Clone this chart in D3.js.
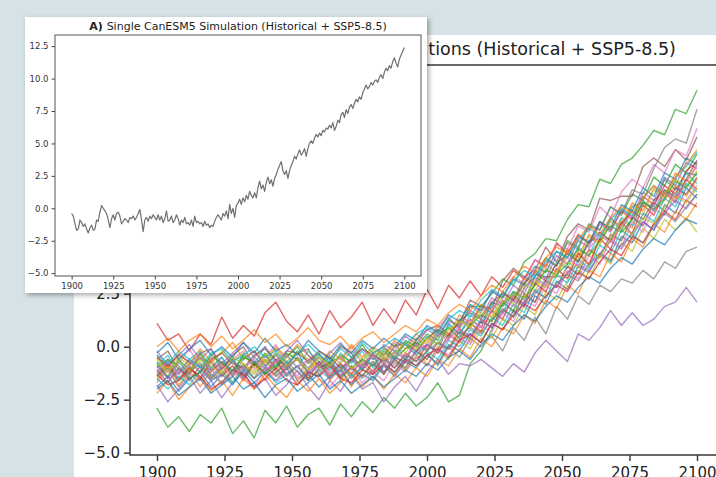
<!DOCTYPE html>
<html>
<head>
<meta charset="utf-8">
<script src="https://cdn.jsdelivr.net/npm/d3@7"></script>
<style>
  body { margin: 0; background: #d5e3e6; }
  svg { display: block; font-family: "DejaVu Sans", sans-serif; }
</style>
</head>
<body>
<div id="chart"></div>
<script>
// ---- Data ----
// single simulation, annual values 1900-2100
var singleYears = d3.range(1900, 2101);
var singleRun = [
  -0.4,-0.6,-1.2,-1.7,-1.6,-0.9,-1.1,-1.4,-1.2,-1.6,
  -1.9,-1.5,-1.3,-1.7,-1.6,-0.9,-1.0,-0.3,0.2,0.0,
  -0.2,-0.4,-0.9,-1.5,-0.8,-0.5,-0.9,-0.4,-0.3,-0.6,
  -1.2,-1.0,-0.8,-0.9,-1.1,-0.7,-0.8,-0.6,-0.9,-0.7,
  -0.4,-0.1,-0.9,-1.8,-0.9,-0.7,-1.0,-0.6,-0.8,-0.5,
  -0.7,-0.9,-0.5,-0.9,-0.6,-1.1,-0.8,-0.2,-1.0,-0.9,
  -0.6,-1.1,-0.9,-0.5,-0.8,-1.3,-0.9,-1.1,-0.7,-1.2,
  -1.1,-1.3,-0.9,-1.4,-0.6,-1.1,-1.0,-1.2,-1.1,-1.4,
  -1.0,-1.3,-1.2,-1.5,-1.3,-1.4,-1.0,-0.7,-0.5,-0.7,
  -0.9,-0.4,-0.6,-0.2,-0.8,0.3,-0.4,0.0,-0.7,0.2,
  0.4,0.7,0.3,0.8,0.5,1.0,0.7,1.3,1.0,0.8,
  1.2,0.8,1.6,2.1,1.5,1.8,1.3,2.0,2.4,1.9,
  2.2,1.7,2.3,2.6,3.0,3.3,3.6,2.9,2.6,2.9,
  2.3,2.9,3.3,3.6,4.0,3.8,4.2,4.5,4.1,4.3,
  4.6,4.0,4.6,5.0,5.2,5.0,5.4,5.7,5.5,5.8,
  5.6,6.0,5.9,6.2,6.1,6.4,6.2,6.6,6.0,6.3,
  6.8,6.6,7.2,7.4,7.0,7.6,7.3,7.8,8.0,7.7,
  8.1,8.4,8.2,8.6,8.4,8.9,9.2,9.5,9.2,9.4,
  9.7,9.5,9.8,9.9,9.7,10.1,10.3,10.0,10.5,10.8,
  10.6,11.0,10.8,11.3,11.6,11.2,10.9,11.5,11.8,12.1,
  12.4
];

// ensemble members, every 4 years 1900-2100
var ensembleYears = d3.range(1900, 2101, 4);
var run01 = [-0.7,-1.5,-0.7,-1.3,-0.3,-1.4,-0.9,-0.5,-1.5,-0.7,-1.0,-0.3,-1.0,-0.2,-1.3,-0.9,-0.5,-1.4,-0.6,-1.1,-0.4,-1.3,-0.3,0.1,-0.4,0.1,-0.2,1.1,0.6,1.3,0.9,2.1,1.9,2.5,2.0,3.4,3.3,3.3,4.6,4.0,5.0,5.1,6.1,5.5,6.6,6.8,6.6,7.9,7.4,8.2,8.1];
var run02 = [-1.6,-1.0,-1.9,-1.1,-1.9,-1.1,-0.8,-1.7,-1.2,-0.8,-1.6,-1.2,-0.9,-1.5,-1.1,-0.7,-1.6,-1.0,-1.9,-0.8,-1.3,-0.9,-1.3,-0.5,0.1,-0.9,0.0,-0.1,0.9,0.2,1.2,1.2,2.2,1.6,2.4,2.1,3.3,3.3,3.4,4.5,3.8,5.1,5.1,6.0,5.6,6.9,6.4,6.9,7.6,7.1,7.9];
var run03 = [-2.9,-3.8,-3.3,-4.0,-3.2,-3.6,-2.9,-4.1,-3.5,-4.3,-3.0,-3.6,-2.8,-3.8,-3.2,-2.9,-3.7,-2.7,-3.3,-2.6,-3.1,-2.4,-2.9,-2.2,-2.8,-2.4,-1.7,-2.6,-2.3,-0.8,-0.2,0.8,2.1,1.7,2.8,3.3,4.2,3.8,5.0,4.7,5.8,5.5,6.6,6.2,7.2,6.9,8.0,7.6,8.6,8.2,9.1];
var run04 = [1.1,0.3,0.6,-0.2,0.6,0.1,1.4,0.4,1.0,0.5,1.6,2.1,1.2,0.7,1.5,0.6,1.7,0.9,1.4,2.1,1.0,1.8,1.1,2.2,1.5,2.7,1.8,2.9,2.3,3.1,2.4,3.3,2.8,3.6,3.2,4.1,3.8,4.9,4.4,5.3,4.9,5.9,5.5,6.4,6.0,7.1,6.7,7.6,7.2,8.3,8.7];
var run05 = [-1.8,-2.6,-2.0,-1.4,-2.2,-1.6,-2.4,-1.7,-1.2,-2.0,-1.5,-2.3,-1.8,-1.1,-1.9,-2.5,-1.6,-2.1,-1.3,-2.0,-1.7,-2.6,-1.9,-1.4,-2.1,-1.2,-0.6,-1.3,-0.8,-0.9,-0.6,-1.0,-1.4,-0.8,-1.2,-0.3,0.3,-0.2,-0.7,0.6,0.3,0.9,1.7,1.0,1.6,1.0,1.3,1.9,2.1,2.8,2.1];
var run06 = [-0.6,-0.2,-1.1,-1.3,-0.3,-0.1,-1.1,-0.4,0.0,-0.9,-0.4,-1.1,-0.2,-0.3,-0.1,-1.0,-0.8,0.0,-0.3,-1.1,-0.3,0.0,-0.5,-0.7,0.3,0.8,1.0,0.6,1.1,2.2,1.9,1.8,3.1,3.7,3.3,3.6,4.7,4.0,5.2,5.8,5.5,7.0,6.9,7.1,7.1,8.5,8.9,8.5,9.3,8.8,9.9];
var run07 = [-0.4,-1.2,-0.8,-0.1,-1.0,-0.5,-1.3,-0.6,-0.2,-1.1,-0.5,0.1,-0.8,-1.4,-0.6,-0.3,-1.2,-0.7,0.0,-0.8,-1.3,-0.4,0.2,-0.6,0.4,-0.1,0.9,1.4,0.8,1.9,1.6,2.7,2.3,3.3,3.0,4.1,3.7,4.8,4.6,5.7,5.4,6.6,6.1,7.3,7.9,7.5,8.6,8.2,9.3,9.0,10.3];
var run08 = [-1.3,-0.7,-1.5,-0.9,-1.6,-1.0,-0.5,-1.4,-0.8,-1.5,-0.6,-1.2,-0.7,-1.6,-1.1,-0.5,-1.3,-0.8,-1.5,-0.9,-0.4,-1.2,-0.7,-1.1,-0.5,-0.3,-0.9,0.0,-0.5,0.4,0.0,0.5,-0.2,0.9,0.3,1.4,0.6,1.9,1.3,2.4,2.0,2.9,2.6,3.2,3.0,3.6,3.2,4.0,3.7,4.5,4.7];
var run09 = [-1.5,-0.9,-1.8,-1.2,-0.7,-1.5,-1.1,-1.7,-0.8,-1.3,-0.6,-1.4,-1.0,-0.5,-1.5,-1.2,-0.8,-1.6,-1.0,-1.4,-0.7,-1.3,-0.6,-1.1,-0.4,-0.9,-0.2,-0.6,0.3,-0.1,0.8,0.4,1.3,1.0,1.9,1.5,2.6,2.2,3.1,3.6,3.2,4.3,3.9,4.9,4.5,5.6,5.1,6.0,5.5,6.1,5.4];
var run10 = [-0.9,-0.4,-1.3,-0.6,-0.2,-1.0,-0.5,-1.2,-0.3,-0.8,0.0,-0.9,-0.4,-1.0,-0.2,-0.7,-1.1,-0.3,-0.8,-0.2,-1.0,-0.3,-0.6,0.2,-0.3,0.5,0.1,1.0,0.6,1.5,1.1,2.0,1.6,2.6,2.2,3.3,2.9,4.0,3.7,4.7,4.3,5.4,5.0,6.1,5.7,6.9,6.4,7.4,7.1,8.2,7.7];
var run11 = [-1.9,-1.4,-2.1,-1.5,-1.2,-1.9,-1.3,-1.8,-1.1,-1.7,-1.2,-1.6,-1.0,-1.8,-1.3,-1.9,-1.4,-1.1,-1.8,-1.3,-1.6,-0.9,-1.4,-0.7,-1.0,-0.4,-0.8,0.1,-0.2,0.6,0.2,1.1,0.8,1.7,1.3,2.4,2.0,3.1,2.7,3.8,3.5,4.4,4.0,5.2,4.9,5.9,5.5,6.7,6.3,7.5,7.0];
var run12 = [-0.5,-1.0,-0.3,-0.8,-0.1,-0.7,-0.3,0.2,-0.6,-0.2,-0.8,0.0,-0.5,0.1,-0.4,-0.9,-0.2,-0.6,0.1,-0.5,0.0,-0.4,0.3,-0.1,0.6,0.2,1.0,0.6,1.5,1.1,2.0,1.7,2.6,2.2,3.2,2.9,3.9,3.5,4.6,4.2,5.3,4.9,6.0,5.7,6.8,6.4,7.5,7.1,8.2,7.8,8.6];
var run13 = [-0.8,-1.4,-0.6,-1.1,-0.5,-1.2,-0.7,-1.3,-0.4,-0.9,-0.3,-1.0,-0.5,0.0,-0.8,-0.3,-1.0,-0.4,-0.7,0.1,-0.6,-0.1,-0.5,0.3,0.0,0.6,0.3,1.3,0.9,1.9,1.9,2.5,3.2,2.9,4.0,4.4,5.1,5.0,6.0,6.7,6.6,7.9,7.7,8.6,8.9,9.5,10.2,10.0,11.2,11.0,12.1];
var run14 = [-1.4,-0.8,-1.6,-1.0,-1.5,-0.7,-1.4,-0.9,-1.6,-0.8,-1.2,-0.6,-1.3,-0.9,-1.5,-0.7,-1.4,-0.8,-1.3,-0.6,-1.2,-0.5,-1.0,-0.3,-0.7,0.1,-0.3,0.6,0.2,1.1,0.7,1.7,1.3,2.4,1.9,3.0,2.6,3.7,3.2,4.4,3.9,5.1,4.6,5.9,5.3,6.7,6.2,7.3,6.8,7.9,7.4];
var run15 = [-0.2,-0.9,-0.4,0.1,-0.6,-0.1,-0.8,-0.3,0.2,-0.5,0.0,-0.7,-0.2,0.3,-0.4,-0.9,-0.3,0.2,-0.5,-0.1,-0.6,0.1,-0.2,0.5,0.1,0.8,0.5,1.2,1.0,1.7,1.4,2.3,2.0,2.9,2.5,3.6,3.2,4.3,3.9,5.0,4.7,5.8,5.4,6.5,6.1,7.3,6.9,8.0,7.6,8.7,8.4];
var run16 = [-1.1,-1.7,-1.0,-1.6,-0.9,-1.5,-1.0,-0.6,-1.4,-0.8,-1.3,-0.7,-1.4,-0.9,-1.6,-1.0,-0.7,-1.5,-0.9,-1.4,-0.8,-1.3,-0.6,-1.0,-0.2,-0.6,0.2,-0.1,0.7,0.4,1.2,0.9,1.8,1.4,2.5,2.1,3.1,2.8,3.8,3.4,4.6,4.2,5.3,5.0,6.1,5.7,6.8,6.4,7.5,7.2,8.0];
var run17 = [-1.7,-1.1,-1.9,-1.3,-1.6,-1.0,-1.8,-1.2,-1.5,-1.9,-1.0,-1.6,-1.2,-1.8,-1.1,-1.5,-1.9,-1.3,-1.0,-1.7,-1.2,-1.6,-0.8,-1.2,-0.5,-0.9,-0.1,-0.4,0.4,0.1,1.0,0.7,1.6,1.2,2.2,1.9,2.9,2.5,3.6,3.2,4.3,3.9,5.1,4.7,5.9,5.4,6.5,6.2,7.2,6.9,7.6];
var run18 = [-1.2,-0.6,-1.3,-0.8,-0.3,-1.1,-0.7,-1.4,-0.6,-0.2,-0.9,-0.4,-1.1,-0.5,-1.0,-0.4,-0.8,-1.2,-0.5,-0.9,-0.3,-0.8,-0.2,-0.6,0.2,-0.2,0.7,0.4,1.3,1.0,1.9,1.6,2.6,2.2,3.3,3.0,4.1,3.8,4.9,4.6,5.7,5.5,6.6,6.3,7.4,7.2,8.4,9.4,9.8,9.6,11.2];
var run19 = [-0.6,-1.1,-0.5,-0.9,-0.4,-0.8,-0.2,-0.7,-0.3,-1.0,-0.4,-0.1,-0.7,-0.2,-0.6,-1.0,-0.4,-0.8,-0.2,-0.6,-0.1,-0.5,0.1,-0.3,0.4,0.1,0.8,0.5,1.3,0.9,1.8,1.4,2.4,2.0,3.0,2.6,3.7,3.3,4.4,4.1,5.2,4.8,5.9,5.6,6.7,6.2,7.4,7.0,7.9,7.6,8.3];
var run20 = [-1.5,-2.0,-1.4,-1.8,-1.1,-1.6,-1.2,-1.7,-1.0,-1.5,-1.1,-1.7,-1.3,-0.9,-1.6,-1.1,-1.5,-0.9,-1.4,-1.0,-1.5,-0.8,-1.2,-0.5,-0.9,-0.2,-0.6,0.3,0.0,0.8,0.5,1.4,1.0,2.0,1.6,2.7,2.3,3.4,3.0,4.1,3.7,4.8,4.4,5.5,5.1,6.3,5.9,7.0,6.6,7.7,7.3];
var run21 = [-0.3,0.2,-0.6,-0.1,0.3,-0.4,0.0,-0.5,0.2,-0.3,0.4,-0.2,0.1,-0.4,0.3,-0.2,-0.6,0.1,-0.3,0.3,-0.1,0.4,0.0,0.6,0.3,1.0,0.7,1.5,1.2,2.0,1.7,2.6,2.3,3.2,2.9,3.8,3.5,4.5,4.2,5.2,4.9,5.9,5.6,6.7,6.4,7.5,7.1,8.2,7.9,8.9,8.6];
var run22 = [-2.2,-1.6,-2.5,-1.9,-1.4,-2.1,-1.6,-2.3,-1.5,-2.0,-1.3,-1.9,-2.4,-1.6,-2.1,-1.5,-2.2,-1.7,-1.2,-1.9,-1.4,-2.0,-1.3,-1.7,-1.0,-1.4,-0.6,-0.9,-0.1,-0.5,0.4,0.0,0.9,0.6,1.5,1.1,2.2,1.8,2.9,2.5,3.6,3.3,4.4,4.0,5.1,4.7,5.8,5.4,6.4,6.0,6.8];
var run23 = [-1.0,-0.6,-0.9,-1.5,-1.2,-0.4,-0.8,-1.1,-0.5,-0.7,-1.3,-0.9,-0.3,-0.6,-1.2,-1.4,-0.7,-0.5,-1.0,-0.6,-0.9,-0.2,-0.6,-0.1,0.2,-0.2,0.5,0.9,0.4,1.0,1.5,1.2,2.0,2.6,2.3,2.9,3.6,3.4,3.9,4.6,4.3,5.0,5.7,5.4,6.0,6.8,6.5,7.0,7.8,7.5,8.2];
var run24 = [-1.3,-1.8,-1.6,-1.0,-1.4,-2.0,-1.7,-1.1,-1.3,-1.9,-1.5,-1.0,-1.6,-1.8,-1.2,-1.4,-0.9,-1.5,-1.7,-1.1,-1.3,-0.8,-1.2,-0.6,-0.9,-0.4,-0.1,-0.5,0.3,0.6,0.2,1.1,0.8,1.5,2.0,1.7,2.4,2.9,2.6,3.5,3.2,4.0,4.6,4.3,5.2,4.9,5.8,6.4,6.0,6.9,6.6];
var run25 = [-0.9,-1.5,-1.2,-0.6,-1.0,-1.6,-1.3,-0.7,-1.1,-0.5,-0.9,-1.4,-1.0,-0.6,-1.2,-0.8,-1.5,-1.1,-0.6,-1.0,-0.7,-1.2,-0.5,-0.8,-0.2,0.1,-0.3,0.4,0.8,0.5,1.3,0.9,1.6,2.2,1.9,2.5,3.1,2.8,3.5,3.9,3.6,4.4,5.0,4.6,5.4,5.9,5.5,6.3,6.9,6.5,7.2];
var run26 = [-0.5,-0.9,-0.4,-0.7,-1.2,-0.6,-0.3,-0.8,-1.0,-0.4,-0.1,-0.6,-0.9,-0.3,-0.7,-0.2,-0.5,-1.0,-0.6,-0.1,-0.4,-0.7,0.0,0.2,-0.2,0.4,0.8,0.5,1.2,1.6,1.3,2.1,2.5,2.2,3.0,3.5,3.1,3.9,4.4,4.0,4.9,5.4,5.0,5.8,6.4,6.0,6.9,7.4,7.0,7.9,8.8];
var run27 = [-1.1,-0.7,-1.3,-0.9,-0.5,-1.2,-0.8,-1.4,-1.0,-0.6,-1.1,-0.7,-0.4,-1.0,-0.6,-1.3,-0.9,-0.5,-1.1,-0.8,-0.4,-0.9,-0.3,-0.5,0.1,-0.1,0.6,0.3,1.0,1.3,0.9,1.8,2.2,1.9,2.7,3.2,2.9,3.6,4.2,3.8,4.6,5.3,4.9,5.7,6.2,5.8,6.7,7.3,6.9,7.8,8.5];
var run28 = [-1.4,-1.0,-1.6,-1.2,-0.8,-1.3,-1.7,-1.1,-0.9,-1.5,-1.0,-1.3,-0.7,-1.2,-1.6,-1.1,-0.8,-1.4,-1.0,-1.5,-1.1,-0.6,-1.0,-0.4,-0.7,-0.2,0.2,-0.1,0.5,0.9,0.6,1.3,1.7,1.4,2.1,2.6,2.3,3.0,3.4,3.1,3.9,4.4,4.1,4.8,5.3,4.9,5.7,6.3,5.9,6.6,7.2];
var run29 = [-0.8,-1.2,-0.7,-1.1,-0.6,-0.9,-1.3,-0.5,-0.8,-1.2,-0.7,-0.3,-0.9,-0.6,-1.1,-0.5,-0.9,-0.4,-1.0,-0.7,-0.2,-0.6,-0.3,0.2,-0.1,0.4,0.1,0.8,1.2,0.9,1.6,1.4,2.1,2.5,2.3,3.1,2.8,3.6,4.0,3.7,4.5,4.2,5.1,5.6,5.3,6.1,5.8,6.6,7.1,6.8,7.5];
var run30 = [-0.4,-0.8,-0.2,-0.6,-1.0,-0.3,-0.1,-0.7,-0.4,0.0,-0.5,-0.2,-0.8,-0.3,0.1,-0.4,-0.7,-0.1,-0.5,0.2,-0.3,0.0,0.4,0.1,0.6,0.9,0.6,1.3,1.7,1.4,2.2,2.7,2.4,3.1,3.6,3.3,4.0,4.5,4.2,5.0,5.6,5.2,6.0,6.5,6.2,7.0,7.6,7.2,8.0,8.5,9.2];
var run31 = [-2.0,-1.6,-2.3,-1.9,-1.5,-2.2,-1.8,-1.4,-2.0,-1.7,-2.4,-1.8,-1.5,-2.1,-1.7,-1.3,-2.0,-1.6,-2.2,-1.8,-1.4,-1.9,-1.5,-1.1,-1.4,-0.8,-1.1,-0.5,-0.2,-0.6,0.1,0.6,0.3,1.0,1.5,1.2,1.9,2.4,2.1,2.8,3.3,3.0,3.7,4.2,3.9,4.6,5.1,4.8,5.5,6.0,5.8];
var run32 = [0.0,0.4,-0.2,0.3,0.6,0.0,0.5,-0.1,0.3,0.8,0.2,0.6,0.0,0.4,0.9,0.3,0.1,0.5,-0.1,0.4,0.7,0.2,0.6,1.0,0.7,1.3,1.0,1.6,2.0,1.7,2.4,2.9,2.6,3.3,3.8,3.5,4.2,4.7,4.4,5.1,5.7,5.3,6.1,6.6,6.3,7.0,7.6,7.2,8.0,8.6,9.3];
var ensemble = [run01, run02, run03, run04, run05, run06, run07, run08, run09, run10, run11,
                run12, run13, run14, run15, run16, run17, run18, run19, run20, run21, run22,
                run23, run24, run25, run26, run27, run28, run29, run30, run31, run32];

var xTickValues = [1900, 1925, 1950, 1975, 2000, 2025, 2050, 2075, 2100];
var yTickValues = [-5, -2.5, 0, 2.5, 5, 7.5, 10, 12.5];
var singleTitle = "Single CanESM5 Simulation (Historical + SSP5-8.5)";
var ensembleTitle = "Multiple CanESM5 Simulations (Historical + SSP5-8.5)";

// ---- SVG ----
var svgWidth = 716;
var svgHeight = 477;

var svg = d3.select("#chart")
  .append("svg")
  .attr("width", svgWidth)
  .attr("height", svgHeight);

var defs = svg.append("defs");
defs.append("filter")
  .attr("id", "shadow")
  .attr("x", "-10%").attr("y", "-10%")
  .attr("width", "120%").attr("height", "120%")
  .append("feDropShadow")
  .attr("dx", 2).attr("dy", 2)
  .attr("stdDeviation", 2.5)
  .attr("flood-color", "#000")
  .attr("flood-opacity", 0.35);

// slight softening, the reference is a blurry photo of the screen
defs.append("filter")
  .attr("id", "soft")
  .append("feGaussianBlur")
  .attr("stdDeviation", 0.45);

svg.append("rect")
  .attr("width", svgWidth)
  .attr("height", svgHeight)
  .attr("fill", "#d5e3e6");

// white figure of the big (ensemble) chart
svg.append("rect")
  .attr("x", 74).attr("y", 35)
  .attr("width", svgWidth - 74).attr("height", svgHeight - 35)
  .attr("fill", "#fff");

// ---- Big chart: all members ----
var big = { left: 130, right: 724, top: 65, bottom: 455 };

var xBig = d3.scaleLinear().domain([1890, 2110]).range([big.left, big.right]);
var yBig = d3.scaleLinear().domain([-5.11, 13.29]).range([big.bottom, big.top]);

defs.append("clipPath").attr("id", "clipBig")
  .append("rect")
  .attr("x", big.left).attr("y", big.top)
  .attr("width", big.right - big.left).attr("height", big.bottom - big.top);

var bigLine = d3.line()
  .x((d, i) => xBig(ensembleYears[i]))
  .y(d => yBig(d));

svg.append("g")
  .attr("clip-path", "url(#clipBig)")
  .append("g")
  .attr("filter", "url(#soft)")
  .selectAll("path")
  .data(ensemble)
  .enter()
  .append("path")
  .attr("d", bigLine)
  .attr("fill", "none")
  .attr("stroke", (d, i) => d3.schemeCategory10[i % 10])
  .attr("stroke-width", 1.4)
  .attr("stroke-opacity", 0.7)
  .attr("stroke-linejoin", "round");

var bigX = svg.append("g")
  .attr("transform", `translate(0, ${big.bottom})`)
  .call(d3.axisBottom(xBig).tickValues(xTickValues).tickFormat(d3.format("d"))
    .tickSize(6).tickSizeOuter(0).tickPadding(6));

var bigY = svg.append("g")
  .attr("transform", `translate(${big.left}, 0)`)
  .call(d3.axisLeft(yBig).tickValues(yTickValues).tickFormat(d3.format(".1f"))
    .tickSize(6).tickSizeOuter(0).tickPadding(4));

[bigX, bigY].forEach(function(g) {
  g.attr("font-family", "DejaVu Sans").attr("font-size", 15);
  g.selectAll("line").attr("stroke", "#333").attr("stroke-width", 1.4);
  g.selectAll("text").attr("fill", "#222");
  g.select(".domain").remove();
});

svg.append("rect")
  .attr("x", big.left).attr("y", big.top)
  .attr("width", big.right - big.left).attr("height", big.bottom - big.top)
  .attr("fill", "none")
  .attr("stroke", "#444")
  .attr("stroke-width", 1.6);

var bigTitle = svg.append("text")
  .attr("x", (big.left + big.right) / 2)
  .attr("y", 55)
  .attr("text-anchor", "middle")
  .attr("font-size", 17.5)
  .attr("fill", "#222");
bigTitle.append("tspan").attr("font-weight", "bold").text("B) ");
bigTitle.append("tspan").text(ensembleTitle);

// ---- Inset: single simulation ----
var inset = { left: 55, right: 421, top: 35, bottom: 276 };

svg.append("rect")
  .attr("x", 25).attr("y", 17)
  .attr("width", 402).attr("height", 276)
  .attr("fill", "#fff")
  .attr("filter", "url(#shadow)");

var xIn = d3.scaleLinear().domain([1890, 2110]).range([inset.left, inset.right]);
var yIn = d3.scaleLinear().domain([-5.22, 13.36]).range([inset.bottom, inset.top]);

var inLine = d3.line()
  .x((d, i) => xIn(singleYears[i]))
  .y(d => yIn(d));

svg.append("path")
  .datum(singleRun)
  .attr("d", inLine)
  .attr("fill", "none")
  .attr("stroke", "#707070")
  .attr("stroke-width", 1.2)
  .attr("stroke-linejoin", "round")
  .attr("filter", "url(#soft)");

var inX = svg.append("g")
  .attr("transform", `translate(0, ${inset.bottom})`)
  .call(d3.axisBottom(xIn).tickValues(xTickValues).tickFormat(d3.format("d"))
    .tickSize(3.5).tickSizeOuter(0).tickPadding(3));

var inY = svg.append("g")
  .attr("transform", `translate(${inset.left}, 0)`)
  .call(d3.axisLeft(yIn).tickValues(yTickValues).tickFormat(d3.format(".1f"))
    .tickSize(3.5).tickSizeOuter(0).tickPadding(3));

[inX, inY].forEach(function(g) {
  g.attr("font-family", "DejaVu Sans").attr("font-size", 8.5);
  g.selectAll("line").attr("stroke", "#444");
  g.selectAll("text").attr("fill", "#333");
  g.select(".domain").remove();
});

svg.append("rect")
  .attr("x", inset.left).attr("y", inset.top)
  .attr("width", inset.right - inset.left).attr("height", inset.bottom - inset.top)
  .attr("fill", "none")
  .attr("stroke", "#555")
  .attr("stroke-width", 1);

var inTitle = svg.append("text")
  .attr("x", (inset.left + inset.right) / 2)
  .attr("y", 30)
  .attr("text-anchor", "middle")
  .attr("font-size", 11)
  .attr("fill", "#222");
inTitle.append("tspan").attr("font-weight", "bold").text("A) ");
inTitle.append("tspan").text(singleTitle);
</script>
</body>
</html>
